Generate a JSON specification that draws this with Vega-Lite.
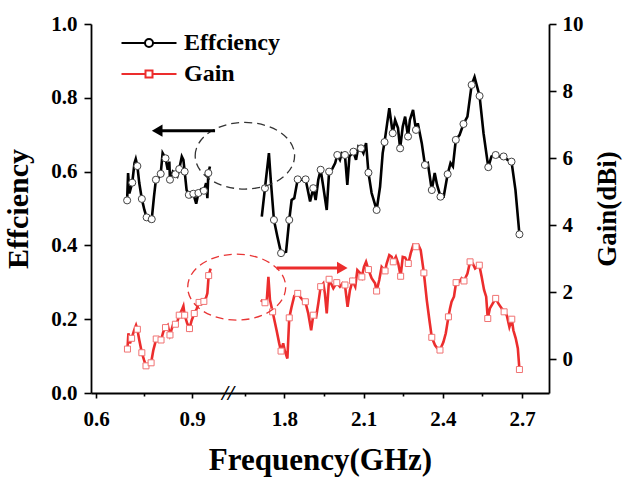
{
"$schema": "https://vega.github.io/schema/vega-lite/v6.json",
"width": 458, "height": 369,
"autosize": {"type": "none"},
"padding": {"left": 91, "top": 24, "right": 75, "bottom": 84},
"config": {
  "view": {"stroke": null},
  "font": "'Liberation Serif', 'Times New Roman', Times, serif",
  "axis": {"grid": false, "domainColor": "black", "domainWidth": 1.8, "tickColor": "black", "tickWidth": 1.6,
           "labelFont": "'Liberation Serif', 'Times New Roman', Times, serif", "labelFontWeight": "bold", "labelFontSize": 21, "labelColor": "black",
           "titleFont": "'Liberation Serif', 'Times New Roman', Times, serif", "titleFontWeight": "bold", "titleColor": "black"}
},
"datasets": {
  "eff": [
    {"f":0.697,"E":0.522,"seg":"a"},{"f":0.700,"E":0.596,"seg":"a"},{"f":0.704,"E":0.541,"seg":"a"},{"f":0.713,"E":0.570,"seg":"a"},
    {"f":0.720,"E":0.623,"seg":"a"},{"f":0.724,"E":0.634,"seg":"a"},{"f":0.729,"E":0.615,"seg":"a"},{"f":0.735,"E":0.569,"seg":"a"},
    {"f":0.743,"E":0.526,"seg":"a"},{"f":0.751,"E":0.496,"seg":"a"},{"f":0.758,"E":0.476,"seg":"a"},{"f":0.767,"E":0.467,"seg":"a"},
    {"f":0.774,"E":0.471,"seg":"a"},{"f":0.781,"E":0.532,"seg":"a"},{"f":0.787,"E":0.578,"seg":"a"},{"f":0.795,"E":0.582,"seg":"a"},
    {"f":0.802,"E":0.594,"seg":"a"},{"f":0.808,"E":0.650,"seg":"a"},{"f":0.817,"E":0.636,"seg":"a"},{"f":0.824,"E":0.605,"seg":"a"},
    {"f":0.829,"E":0.627,"seg":"a"},{"f":0.831,"E":0.578,"seg":"a"},{"f":0.840,"E":0.600,"seg":"a"},{"f":0.848,"E":0.593,"seg":"a"},
    {"f":0.854,"E":0.587,"seg":"a"},{"f":0.860,"E":0.607,"seg":"a"},{"f":0.868,"E":0.641,"seg":"a"},{"f":0.873,"E":0.632,"seg":"a"},
    {"f":0.877,"E":0.600,"seg":"a"},{"f":0.883,"E":0.550,"seg":"a"},{"f":0.890,"E":0.537,"seg":"a"},{"f":0.896,"E":0.532,"seg":"a"},
    {"f":0.904,"E":0.540,"seg":"a"},{"f":0.913,"E":0.513,"seg":"a"},{"f":0.920,"E":0.542,"seg":"a"},{"f":0.928,"E":0.552,"seg":"a"},
    {"f":0.937,"E":0.548,"seg":"a"},{"f":0.944,"E":0.569,"seg":"a"},{"f":0.948,"E":0.528,"seg":"a"},{"f":0.951,"E":0.596,"seg":"a"},
    {"f":0.956,"E":0.614,"seg":"a"},
    {"f":1.714,"E":0.478,"seg":"b"},{"f":1.726,"E":0.555,"seg":"b"},{"f":1.741,"E":0.650,"seg":"b"},{"f":1.748,"E":0.578,"seg":"b"},
    {"f":1.760,"E":0.469,"seg":"b"},{"f":1.773,"E":0.424,"seg":"b"},{"f":1.787,"E":0.379,"seg":"b"},{"f":1.806,"E":0.383,"seg":"b"},
    {"f":1.818,"E":0.469,"seg":"b"},{"f":1.827,"E":0.523,"seg":"b"},{"f":1.837,"E":0.528,"seg":"b"},{"f":1.850,"E":0.579,"seg":"b"},
    {"f":1.865,"E":0.578,"seg":"b"},{"f":1.880,"E":0.579,"seg":"b"},{"f":1.897,"E":0.519,"seg":"b"},{"f":1.909,"E":0.555,"seg":"b"},
    {"f":1.918,"E":0.523,"seg":"b"},{"f":1.928,"E":0.578,"seg":"b"},{"f":1.937,"E":0.605,"seg":"b"},{"f":1.947,"E":0.559,"seg":"b"},
    {"f":1.960,"E":0.496,"seg":"b"},{"f":1.969,"E":0.600,"seg":"b"},{"f":1.979,"E":0.605,"seg":"b"},{"f":1.992,"E":0.623,"seg":"b"},
    {"f":2.000,"E":0.645,"seg":"b"},{"f":2.010,"E":0.632,"seg":"b"},{"f":2.017,"E":0.650,"seg":"b"},{"f":2.029,"E":0.645,"seg":"b"},
    {"f":2.038,"E":0.564,"seg":"b"},{"f":2.046,"E":0.641,"seg":"b"},{"f":2.061,"E":0.654,"seg":"b"},{"f":2.071,"E":0.632,"seg":"b"},
    {"f":2.080,"E":0.668,"seg":"b"},{"f":2.090,"E":0.663,"seg":"b"},{"f":2.099,"E":0.650,"seg":"b"},{"f":2.109,"E":0.677,"seg":"b"},
    {"f":2.118,"E":0.597,"seg":"b"},{"f":2.130,"E":0.542,"seg":"b"},{"f":2.149,"E":0.496,"seg":"b"},{"f":2.162,"E":0.559,"seg":"b"},
    {"f":2.172,"E":0.650,"seg":"b"},{"f":2.179,"E":0.680,"seg":"b"},{"f":2.197,"E":0.772,"seg":"b"},{"f":2.210,"E":0.704,"seg":"b"},
    {"f":2.219,"E":0.740,"seg":"b"},{"f":2.230,"E":0.718,"seg":"b"},{"f":2.238,"E":0.663,"seg":"b"},{"f":2.248,"E":0.722,"seg":"b"},
    {"f":2.257,"E":0.749,"seg":"b"},{"f":2.268,"E":0.695,"seg":"b"},{"f":2.275,"E":0.740,"seg":"b"},{"f":2.287,"E":0.767,"seg":"b"},
    {"f":2.298,"E":0.713,"seg":"b"},{"f":2.305,"E":0.731,"seg":"b"},{"f":2.320,"E":0.677,"seg":"b"},{"f":2.332,"E":0.618,"seg":"b"},
    {"f":2.343,"E":0.623,"seg":"b"},{"f":2.358,"E":0.550,"seg":"b"},{"f":2.369,"E":0.596,"seg":"b"},{"f":2.378,"E":0.564,"seg":"b"},
    {"f":2.391,"E":0.532,"seg":"b"},{"f":2.403,"E":0.532,"seg":"b"},{"f":2.418,"E":0.593,"seg":"b"},{"f":2.429,"E":0.623,"seg":"b"},
    {"f":2.438,"E":0.614,"seg":"b"},{"f":2.449,"E":0.686,"seg":"b"},{"f":2.463,"E":0.699,"seg":"b"},{"f":2.478,"E":0.729,"seg":"b"},
    {"f":2.493,"E":0.749,"seg":"b"},{"f":2.509,"E":0.835,"seg":"b"},{"f":2.520,"E":0.856,"seg":"b"},{"f":2.539,"E":0.805,"seg":"b"},
    {"f":2.554,"E":0.704,"seg":"b"},{"f":2.572,"E":0.612,"seg":"b"},{"f":2.584,"E":0.641,"seg":"b"},{"f":2.600,"E":0.645,"seg":"b"},
    {"f":2.614,"E":0.641,"seg":"b"},{"f":2.630,"E":0.641,"seg":"b"},{"f":2.645,"E":0.632,"seg":"b"},{"f":2.660,"E":0.627,"seg":"b"},
    {"f":2.675,"E":0.550,"seg":"b"},{"f":2.690,"E":0.430,"seg":"b"}
  ],
  "effm": [
    {"f":0.697,"E":0.522},{"f":0.713,"E":0.570},{"f":0.729,"E":0.615},{"f":0.743,"E":0.526},{"f":0.758,"E":0.476},{"f":0.774,"E":0.471},
    {"f":0.787,"E":0.578},{"f":0.802,"E":0.594},{"f":0.817,"E":0.636},{"f":0.831,"E":0.578},{"f":0.848,"E":0.593},{"f":0.860,"E":0.607},
    {"f":0.877,"E":0.600},{"f":0.890,"E":0.537},{"f":0.904,"E":0.540},{"f":0.920,"E":0.542},{"f":0.937,"E":0.548},{"f":0.951,"E":0.596},
    {"f":1.726,"E":0.555},{"f":1.760,"E":0.469},{"f":1.787,"E":0.379},{"f":1.818,"E":0.469},{"f":1.850,"E":0.579},{"f":1.880,"E":0.579},
    {"f":1.909,"E":0.555},{"f":1.937,"E":0.605},{"f":1.969,"E":0.600},{"f":2.000,"E":0.645},{"f":2.029,"E":0.645},{"f":2.061,"E":0.654},
    {"f":2.090,"E":0.663},{"f":2.118,"E":0.597},{"f":2.149,"E":0.496},{"f":2.179,"E":0.680},{"f":2.210,"E":0.704},{"f":2.238,"E":0.663},
    {"f":2.268,"E":0.695},{"f":2.298,"E":0.713},{"f":2.332,"E":0.618},{"f":2.358,"E":0.550},{"f":2.391,"E":0.532},{"f":2.418,"E":0.593},
    {"f":2.449,"E":0.686},{"f":2.478,"E":0.729},{"f":2.509,"E":0.835},{"f":2.539,"E":0.805},{"f":2.572,"E":0.612},{"f":2.600,"E":0.645},
    {"f":2.630,"E":0.641},{"f":2.660,"E":0.627},{"f":2.690,"E":0.430}
  ],
  "gain": [
    {"f":0.698,"G":0.31,"seg":"a"},{"f":0.701,"G":0.78,"seg":"a"},{"f":0.706,"G":0.48,"seg":"a"},{"f":0.711,"G":0.63,"seg":"a"},
    {"f":0.719,"G":0.87,"seg":"a"},{"f":0.725,"G":1.02,"seg":"a"},{"f":0.729,"G":0.90,"seg":"a"},{"f":0.735,"G":0.58,"seg":"a"},
    {"f":0.743,"G":0.20,"seg":"a"},{"f":0.750,"G":-0.02,"seg":"a"},{"f":0.756,"G":-0.19,"seg":"a"},{"f":0.763,"G":-0.17,"seg":"a"},
    {"f":0.772,"G":-0.10,"seg":"a"},{"f":0.779,"G":0.28,"seg":"a"},{"f":0.788,"G":0.61,"seg":"a"},{"f":0.795,"G":0.58,"seg":"a"},
    {"f":0.803,"G":0.58,"seg":"a"},{"f":0.810,"G":0.82,"seg":"a"},{"f":0.817,"G":0.95,"seg":"a"},{"f":0.824,"G":1.02,"seg":"a"},
    {"f":0.831,"G":0.73,"seg":"a"},{"f":0.840,"G":1.02,"seg":"a"},{"f":0.848,"G":1.05,"seg":"a"},{"f":0.854,"G":1.12,"seg":"a"},
    {"f":0.860,"G":1.32,"seg":"a"},{"f":0.868,"G":1.47,"seg":"a"},{"f":0.873,"G":1.59,"seg":"a"},{"f":0.877,"G":1.32,"seg":"a"},
    {"f":0.885,"G":1.07,"seg":"a"},{"f":0.892,"G":0.92,"seg":"a"},{"f":0.899,"G":1.17,"seg":"a"},{"f":0.907,"G":1.37,"seg":"a"},
    {"f":0.915,"G":1.52,"seg":"a"},{"f":0.922,"G":1.70,"seg":"a"},{"f":0.930,"G":1.77,"seg":"a"},{"f":0.937,"G":1.73,"seg":"a"},
    {"f":0.944,"G":1.85,"seg":"a"},{"f":0.948,"G":1.97,"seg":"a"},{"f":0.952,"G":2.50,"seg":"a"},{"f":0.958,"G":2.71,"seg":"a"},
    {"f":1.710,"G":1.77,"seg":"b"},{"f":1.726,"G":1.69,"seg":"b"},{"f":1.733,"G":1.77,"seg":"b"},{"f":1.739,"G":2.46,"seg":"b"},
    {"f":1.745,"G":1.77,"seg":"b"},{"f":1.755,"G":1.42,"seg":"b"},{"f":1.770,"G":0.87,"seg":"b"},{"f":1.780,"G":0.48,"seg":"b"},
    {"f":1.787,"G":0.25,"seg":"b"},{"f":1.795,"G":0.48,"seg":"b"},{"f":1.802,"G":0.23,"seg":"b"},{"f":1.811,"G":0.03,"seg":"b"},
    {"f":1.818,"G":1.24,"seg":"b"},{"f":1.827,"G":1.57,"seg":"b"},{"f":1.837,"G":1.89,"seg":"b"},{"f":1.850,"G":1.97,"seg":"b"},
    {"f":1.859,"G":1.87,"seg":"b"},{"f":1.869,"G":1.77,"seg":"b"},{"f":1.879,"G":1.72,"seg":"b"},{"f":1.890,"G":1.37,"seg":"b"},
    {"f":1.901,"G":0.87,"seg":"b"},{"f":1.909,"G":1.32,"seg":"b"},{"f":1.920,"G":1.27,"seg":"b"},{"f":1.928,"G":1.67,"seg":"b"},
    {"f":1.937,"G":2.17,"seg":"b"},{"f":1.947,"G":2.27,"seg":"b"},{"f":1.953,"G":1.97,"seg":"b"},{"f":1.960,"G":1.37,"seg":"b"},
    {"f":1.969,"G":2.39,"seg":"b"},{"f":1.976,"G":2.27,"seg":"b"},{"f":1.985,"G":2.12,"seg":"b"},{"f":1.998,"G":2.29,"seg":"b"},
    {"f":2.010,"G":2.17,"seg":"b"},{"f":2.020,"G":2.27,"seg":"b"},{"f":2.029,"G":2.22,"seg":"b"},{"f":2.039,"G":1.57,"seg":"b"},
    {"f":2.048,"G":2.07,"seg":"b"},{"f":2.058,"G":2.34,"seg":"b"},{"f":2.068,"G":2.17,"seg":"b"},{"f":2.076,"G":2.66,"seg":"b"},
    {"f":2.087,"G":2.57,"seg":"b"},{"f":2.093,"G":2.46,"seg":"b"},{"f":2.101,"G":2.76,"seg":"b"},{"f":2.109,"G":2.91,"seg":"b"},
    {"f":2.118,"G":2.68,"seg":"b"},{"f":2.130,"G":2.42,"seg":"b"},{"f":2.143,"G":2.27,"seg":"b"},{"f":2.149,"G":2.04,"seg":"b"},
    {"f":2.159,"G":2.37,"seg":"b"},{"f":2.168,"G":2.76,"seg":"b"},{"f":2.181,"G":2.64,"seg":"b"},{"f":2.187,"G":2.86,"seg":"b"},
    {"f":2.197,"G":3.11,"seg":"b"},{"f":2.206,"G":3.06,"seg":"b"},{"f":2.212,"G":2.91,"seg":"b"},{"f":2.222,"G":3.06,"seg":"b"},
    {"f":2.231,"G":2.86,"seg":"b"},{"f":2.240,"G":2.48,"seg":"b"},{"f":2.248,"G":3.06,"seg":"b"},{"f":2.257,"G":3.04,"seg":"b"},
    {"f":2.269,"G":2.86,"seg":"b"},{"f":2.278,"G":3.16,"seg":"b"},{"f":2.288,"G":3.41,"seg":"b"},{"f":2.298,"G":3.36,"seg":"b"},
    {"f":2.307,"G":3.41,"seg":"b"},{"f":2.316,"G":3.26,"seg":"b"},{"f":2.328,"G":2.58,"seg":"b"},{"f":2.339,"G":1.77,"seg":"b"},
    {"f":2.349,"G":1.17,"seg":"b"},{"f":2.358,"G":0.66,"seg":"b"},{"f":2.370,"G":0.43,"seg":"b"},{"f":2.379,"G":0.33,"seg":"b"},
    {"f":2.389,"G":0.28,"seg":"b"},{"f":2.402,"G":0.52,"seg":"b"},{"f":2.411,"G":0.78,"seg":"b"},{"f":2.421,"G":1.27,"seg":"b"},
    {"f":2.427,"G":1.52,"seg":"b"},{"f":2.433,"G":1.72,"seg":"b"},{"f":2.442,"G":1.87,"seg":"b"},{"f":2.450,"G":2.29,"seg":"b"},
    {"f":2.462,"G":2.31,"seg":"b"},{"f":2.471,"G":2.42,"seg":"b"},{"f":2.480,"G":2.34,"seg":"b"},{"f":2.493,"G":2.56,"seg":"b"},
    {"f":2.503,"G":2.91,"seg":"b"},{"f":2.513,"G":2.86,"seg":"b"},{"f":2.522,"G":2.71,"seg":"b"},{"f":2.538,"G":2.81,"seg":"b"},
    {"f":2.547,"G":2.46,"seg":"b"},{"f":2.556,"G":2.07,"seg":"b"},{"f":2.564,"G":1.87,"seg":"b"},{"f":2.570,"G":1.22,"seg":"b"},
    {"f":2.578,"G":1.52,"seg":"b"},{"f":2.589,"G":1.67,"seg":"b"},{"f":2.600,"G":1.82,"seg":"b"},{"f":2.610,"G":1.67,"seg":"b"},
    {"f":2.623,"G":1.52,"seg":"b"},{"f":2.632,"G":1.42,"seg":"b"},{"f":2.642,"G":1.32,"seg":"b"},{"f":2.652,"G":0.97,"seg":"b"},
    {"f":2.661,"G":1.20,"seg":"b"},{"f":2.667,"G":0.87,"seg":"b"},{"f":2.676,"G":0.63,"seg":"b"},{"f":2.684,"G":0.33,"seg":"b"},
    {"f":2.690,"G":-0.30,"seg":"b"}
  ],
  "gainm": [
    {"f":0.698,"G":0.31},{"f":0.711,"G":0.63},{"f":0.729,"G":0.90},{"f":0.743,"G":0.20},{"f":0.756,"G":-0.19},{"f":0.772,"G":-0.10},
    {"f":0.788,"G":0.61},{"f":0.803,"G":0.58},{"f":0.817,"G":0.95},{"f":0.831,"G":0.73},{"f":0.848,"G":1.05},{"f":0.860,"G":1.32},
    {"f":0.877,"G":1.32},{"f":0.892,"G":0.92},{"f":0.907,"G":1.37},{"f":0.922,"G":1.70},{"f":0.937,"G":1.73},{"f":0.952,"G":2.50},
    {"f":1.726,"G":1.69},{"f":1.755,"G":1.42},{"f":1.787,"G":0.25},{"f":1.818,"G":1.24},{"f":1.850,"G":1.97},{"f":1.879,"G":1.72},
    {"f":1.909,"G":1.32},{"f":1.937,"G":2.17},{"f":1.969,"G":2.39},{"f":1.998,"G":2.29},{"f":2.029,"G":2.22},{"f":2.058,"G":2.34},
    {"f":2.093,"G":2.46},{"f":2.118,"G":2.68},{"f":2.149,"G":2.04},{"f":2.181,"G":2.64},{"f":2.212,"G":2.91},{"f":2.240,"G":2.48},
    {"f":2.269,"G":2.86},{"f":2.298,"G":3.36},{"f":2.328,"G":2.58},{"f":2.358,"G":0.66},{"f":2.389,"G":0.28},{"f":2.421,"G":1.27},
    {"f":2.450,"G":2.29},{"f":2.480,"G":2.34},{"f":2.503,"G":2.91},{"f":2.538,"G":2.81},{"f":2.570,"G":1.22},{"f":2.600,"G":1.82},
    {"f":2.632,"G":1.42},{"f":2.661,"G":1.20},{"f":2.690,"G":-0.30}
  ],
  "legendrows": [{"series":"Effciency"},{"series":"Gain"}]
},
"layer": [
  {
    "layer": [
      {
        "data": {"name": "eff"},
        "mark": {"type": "line", "color": "black", "strokeWidth": 2.6},
        "encoding": {
          "x": {"field": "f", "type": "quantitative", "title": "Frequency(GHz)",
                "scale": {"domain": [0.584, 1.0125, 1.586, 2.802], "range": [0, 137, 137, 458], "nice": false, "zero": false},
                "axis": {"values": [0.6, 0.75, 0.9, 1.65, 1.8, 1.95, 2.1, 2.25, 2.4, 2.55, 2.7],
                         "labelExpr": "abs(datum.value*10-round(datum.value*10))<0.01 ? format(datum.value,'.1f') : ''",
                         "tickSize": {"condition": {"test": "abs(datum.value*10-round(datum.value*10))<0.01", "value": 5}, "value": 3},
                         "labelPadding": 10, "labelFlush": false,
                         "titleFontSize": 31, "titleX": 229, "titleY": 76, "titleBaseline": "alphabetic", "titleAlign": "center"}},
          "y": {"field": "E", "type": "quantitative", "title": "Effciency",
                "scale": {"domain": [0, 1], "nice": false, "zero": false},
                "axis": {"orient": "left", "values": [0,0.1,0.2,0.3,0.4,0.5,0.6,0.7,0.8,0.9,1.0],
                         "labelExpr": "abs(datum.value*5-round(datum.value*5))<0.01 ? format(datum.value,'.1f') : ''",
                         "tickSize": {"condition": {"test": "abs(datum.value*5-round(datum.value*5))<0.01", "value": 7}, "value": 4},
                         "labelPadding": 7, "labelFlush": false,
                         "titleFontSize": 30, "titleAngle": 270, "titleX": -73, "titleY": 184.5, "titleBaseline": "middle", "titleAlign": "center"}},
          "detail": {"field": "seg", "type": "nominal"}
        }
      },
      {
        "data": {"name": "effm"},
        "mark": {"type": "point", "shape": "circle", "filled": true, "fill": "white", "stroke": "#444444", "strokeWidth": 1, "size": 50, "opacity": 1},
        "encoding": {
          "x": {"field": "f", "type": "quantitative", "title": "Frequency(GHz)", "scale": {"domain": [0.584, 1.0125, 1.586, 2.802], "range": [0, 137, 137, 458], "nice": false, "zero": false}},
          "y": {"field": "E", "type": "quantitative", "title": "Effciency", "scale": {"domain": [0, 1], "nice": false, "zero": false}}
        }
      },
      {
        "data": {"values": [{}]},
        "mark": {"type": "point", "filled": false, "stroke": "#333333", "strokeWidth": 1.3, "strokeDash": [8, 5], "opacity": 1,
                 "shape": "M-1,0A1,0.67 0 1,1 1,0A1,0.67 0 1,1 -1,0Z", "size": 9880},
        "encoding": {
          "x": {"datum": 1.650, "type": "quantitative", "title": "Frequency(GHz)", "scale": {"domain": [0.584, 1.0125, 1.586, 2.802], "range": [0, 137, 137, 458], "nice": false, "zero": false}},
          "y": {"datum": 0.643, "type": "quantitative", "title": "Effciency", "scale": {"domain": [0, 1], "nice": false, "zero": false}}
        }
      },
      {
        "data": {"values": [{}]},
        "mark": {"type": "rule", "color": "black", "strokeWidth": 3},
        "encoding": {
          "x": {"datum": 0.80, "type": "quantitative", "title": "Frequency(GHz)", "scale": {"domain": [0.584, 1.0125, 1.586, 2.802], "range": [0, 137, 137, 458], "nice": false, "zero": false}},
          "x2": {"datum": 0.972},
          "y": {"datum": 0.711, "type": "quantitative", "title": "Effciency", "scale": {"domain": [0, 1], "nice": false, "zero": false}}
        }
      },
      {
        "data": {"values": [{}]},
        "mark": {"type": "point", "shape": "triangle-left", "filled": true, "color": "black", "size": 150, "opacity": 1},
        "encoding": {
          "x": {"datum": 0.791, "type": "quantitative", "title": "Frequency(GHz)", "scale": {"domain": [0.584, 1.0125, 1.586, 2.802], "range": [0, 137, 137, 458], "nice": false, "zero": false}},
          "y": {"datum": 0.711, "type": "quantitative", "title": "Effciency", "scale": {"domain": [0, 1], "nice": false, "zero": false}}
        }
      },
      {
        "data": {"values": [{}]},
        "mark": {"type": "text", "text": "//", "font": "'Liberation Serif', 'Times New Roman', serif", "fontSize": 22, "fontWeight": "bold", "fontStyle": "italic", "color": "black", "baseline": "middle", "align": "center", "dy": 0},
        "encoding": {
          "x": {"datum": 1.3, "type": "quantitative", "title": "Frequency(GHz)", "scale": {"domain": [0.584, 1.0125, 1.586, 2.802], "range": [0, 137, 137, 458], "nice": false, "zero": false}},
          "y": {"datum": 0, "type": "quantitative", "title": "Effciency", "scale": {"domain": [0, 1], "nice": false, "zero": false}}
        }
      },
      {
        "data": {"name": "legendrows"},
        "mark": {"type": "point", "filled": false, "fill": "white", "strokeWidth": 2, "opacity": 0},
        "encoding": {
          "color": {"field": "series", "type": "nominal",
                    "scale": {"domain": ["Effciency", "Gain"], "range": ["black", "#ec2d2d"]},
                    "legend": {"title": null, "orient": "none", "legendX": 46, "legendY": 7, "padding": 0,
                               "symbolSize": 100, "symbolStrokeWidth": 2, "symbolOpacity": 1, "symbolFillColor": "white",
                               "labelFont": "'Liberation Serif', 'Times New Roman', Times, serif", "labelFontWeight": "bold", "labelFontSize": 24, "labelColor": "black",
                               "labelOffset": 23, "rowPadding": 7}},
          "shape": {"field": "series", "type": "nominal",
                    "scale": {"domain": ["Effciency", "Gain"],
                              "range": ["M-5.5,0H-0.8M0.8,0H5.5M-0.8,0A0.8,0.8 0 1,0 0.8,0A0.8,0.8 0 1,0 -0.8,0Z",
                                        "M-5.5,0H-0.7M0.7,0H5.5M-0.7,-0.7H0.7V0.7H-0.7Z"]},
                    "legend": {"title": null, "orient": "none", "legendX": 46, "legendY": 7, "padding": 0,
                               "symbolSize": 100, "symbolStrokeWidth": 2, "symbolOpacity": 1, "symbolFillColor": "white",
                               "labelFont": "'Liberation Serif', 'Times New Roman', Times, serif", "labelFontWeight": "bold", "labelFontSize": 24, "labelColor": "black",
                               "labelOffset": 23, "rowPadding": 7}}
        }
      }
    ]
  },
  {
    "layer": [
      {
        "data": {"name": "gain"},
        "mark": {"type": "line", "color": "#ec2d2d", "strokeWidth": 2.6},
        "encoding": {
          "x": {"field": "f", "type": "quantitative", "title": "Frequency(GHz)", "scale": {"domain": [0.584, 1.0125, 1.586, 2.802], "range": [0, 137, 137, 458], "nice": false, "zero": false}},
          "y": {"field": "G", "type": "quantitative", "title": "Gain(dBi)",
                "scale": {"domain": [-1, 10], "nice": false, "zero": false},
                "axis": {"orient": "right", "values": [0,1,2,3,4,5,6,7,8,9,10],
                         "labelExpr": "datum.value % 2 == 0 ? format(datum.value,'d') : ''",
                         "tickSize": {"condition": {"test": "datum.value % 2 == 0", "value": 7}, "value": 4},
                         "labelPadding": 6, "labelFlush": false,
                         "titleFontSize": 27, "titleAngle": 270, "titleX": 58, "titleY": 184.5, "titleBaseline": "middle", "titleAlign": "center"}},
          "detail": {"field": "seg", "type": "nominal"}
        }
      },
      {
        "data": {"name": "gainm"},
        "mark": {"type": "point", "shape": "square", "filled": true, "fill": "white", "stroke": "#f07272", "strokeWidth": 1, "size": 36, "opacity": 1},
        "encoding": {
          "x": {"field": "f", "type": "quantitative", "title": "Frequency(GHz)", "scale": {"domain": [0.584, 1.0125, 1.586, 2.802], "range": [0, 137, 137, 458], "nice": false, "zero": false}},
          "y": {"field": "G", "type": "quantitative", "title": "Gain(dBi)", "scale": {"domain": [-1, 10], "nice": false, "zero": false}}
        }
      },
      {
        "data": {"values": [{}]},
        "mark": {"type": "point", "filled": false, "stroke": "#e83535", "strokeWidth": 1.3, "strokeDash": [8, 5], "opacity": 1,
                 "shape": "M-1,0A1,0.673 0 1,1 1,0A1,0.673 0 1,1 -1,0Z", "size": 9604},
        "encoding": {
          "x": {"datum": 1.619, "type": "quantitative", "title": "Frequency(GHz)", "scale": {"domain": [0.584, 1.0125, 1.586, 2.802], "range": [0, 137, 137, 458], "nice": false, "zero": false}},
          "y": {"datum": 2.156, "type": "quantitative", "title": "Gain(dBi)", "scale": {"domain": [-1, 10], "nice": false, "zero": false}}
        }
      },
      {
        "data": {"values": [{}]},
        "mark": {"type": "rule", "color": "#ec2d2d", "strokeWidth": 3},
        "encoding": {
          "x": {"datum": 1.770, "type": "quantitative", "title": "Frequency(GHz)", "scale": {"domain": [0.584, 1.0125, 1.586, 2.802], "range": [0, 137, 137, 458], "nice": false, "zero": false}},
          "x2": {"datum": 2.0},
          "y": {"datum": 2.73, "type": "quantitative", "title": "Gain(dBi)", "scale": {"domain": [-1, 10], "nice": false, "zero": false}}
        }
      },
      {
        "data": {"values": [{}]},
        "mark": {"type": "point", "shape": "triangle-right", "filled": true, "color": "#ec2d2d", "size": 150, "opacity": 1},
        "encoding": {
          "x": {"datum": 2.019, "type": "quantitative", "title": "Frequency(GHz)", "scale": {"domain": [0.584, 1.0125, 1.586, 2.802], "range": [0, 137, 137, 458], "nice": false, "zero": false}},
          "y": {"datum": 2.73, "type": "quantitative", "title": "Gain(dBi)", "scale": {"domain": [-1, 10], "nice": false, "zero": false}}
        }
      }
    ]
  }
],
"resolve": {"scale": {"y": "independent"}}
}
